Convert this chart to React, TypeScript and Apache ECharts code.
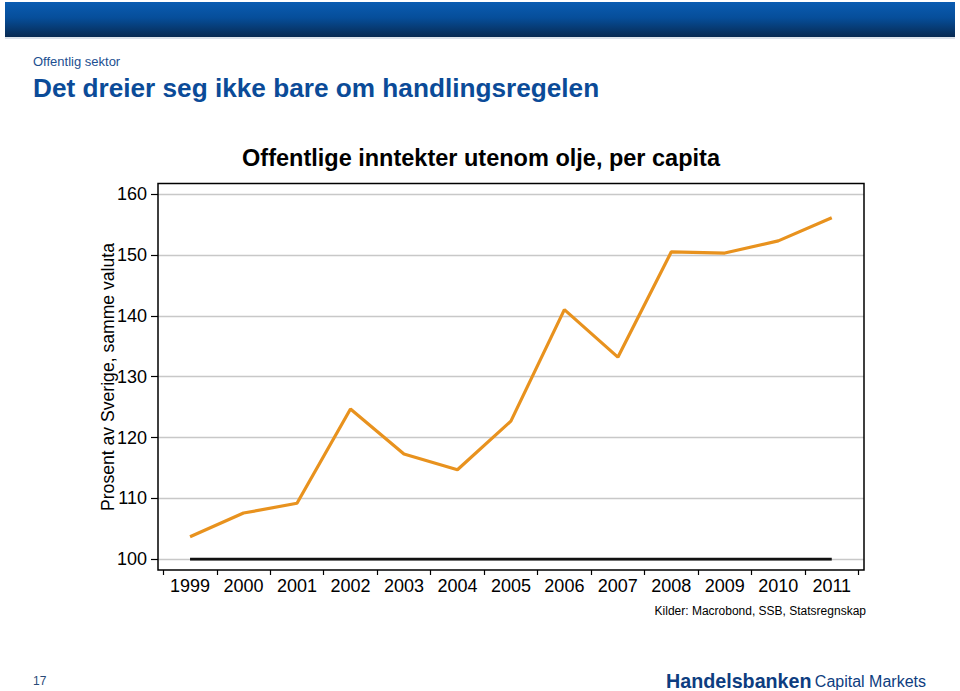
import React, { useEffect, useRef } from "react";
import * as echarts from "echarts";

const years = ["1999", "2000", "2001", "2002", "2003", "2004", "2005", "2006", "2007", "2008", "2009", "2010", "2011"];
const revenueValues = [103.7, 107.6, 109.2, 124.7, 117.3, 114.7, 122.7, 141.0, 133.2, 150.5, 150.3, 152.3, 156.1];
const swedenLevel = [100, 100, 100, 100, 100, 100, 100, 100, 100, 100, 100, 100, 100];
const yTicks = { min: 100, max: 160, interval: 10 };

const FONT = "'Liberation Sans', Arial, Helvetica, sans-serif";

export default function App() {
  const ref = useRef<HTMLDivElement>(null);
  useEffect(() => {
    if (!ref.current) return;
    const chart = echarts.init(ref.current, null, { renderer: "svg" });
    const option: any = {
      animation: false,
      backgroundColor: "#ffffff",
      textStyle: { fontFamily: FONT },
      grid: [
        { left: 158, right: 96, top: 194, bottom: 131.7 },
        { left: 163.3, right: 101.5, top: 194, bottom: 131.7 },
      ],
      xAxis: [
        { type: "category", gridIndex: 0, data: years, show: false },
        {
          type: "category",
          gridIndex: 1,
          data: years,
          boundaryGap: true,
          offset: 10.7,
          axisLine: { show: false },
          axisTick: { show: true, length: 5, lineStyle: { color: "#000", width: 1.2 } },
          axisLabel: { color: "#000", fontSize: 18, fontFamily: FONT, margin: 7, interval: 0 },
          splitLine: { show: false },
        },
      ],
      yAxis: [
        {
          type: "value",
          gridIndex: 0,
          min: yTicks.min,
          max: yTicks.max,
          interval: yTicks.interval,
          axisLine: { show: false },
          axisTick: { show: true, length: 7, lineStyle: { color: "#000", width: 1.2 } },
          axisLabel: { color: "#000", fontSize: 18, fontFamily: FONT, margin: 11 },
          splitLine: { show: true, lineStyle: { color: "#c8c8c8", width: 1.3 } },
        },
        {
          type: "value",
          gridIndex: 1,
          min: yTicks.min,
          max: yTicks.max,
          interval: yTicks.interval,
          show: false,
          splitLine: { show: false },
        },
      ],
      series: [
        {
          type: "line",
          xAxisIndex: 1,
          yAxisIndex: 1,
          data: swedenLevel,
          symbol: "none",
          lineStyle: { color: "#111111", width: 3 },
          z: 3,
        },
        {
          type: "line",
          xAxisIndex: 1,
          yAxisIndex: 1,
          data: revenueValues,
          symbol: "none",
          lineStyle: { color: "#E8921E", width: 3.2 },
          z: 4,
        },
      ],
      graphic: [
        {
          type: "rect",
          shape: { x: 5, y: 2, width: 950, height: 35 },
          style: {
            fill: new echarts.graphic.LinearGradient(0, 0, 0, 1, [
              { offset: 0, color: "#0a5cb2" },
              { offset: 0.45, color: "#064e9a" },
              { offset: 1, color: "#082a52" },
            ]),
          },
          silent: true,
        },
        {
          type: "line",
          shape: { x1: 5, y1: 38, x2: 955, y2: 38 },
          style: { stroke: "#b9c6d6", lineWidth: 1 },
          silent: true,
        },
        {
          type: "text",
          x: 33,
          y: 61,
          style: { text: "Offentlig sektor", fill: "#1d4f91", font: `13px ${FONT}`, verticalAlign: "middle" },
        },
        {
          type: "text",
          x: 33,
          y: 88,
          style: { text: "Det dreier seg ikke bare om handlingsregelen", fill: "#0b4b98", font: `bold 26.2px ${FONT}`, verticalAlign: "middle" },
        },
        {
          type: "text",
          x: 481,
          y: 158,
          style: { text: "Offentlige inntekter utenom olje, per capita", fill: "#000", font: `bold 23.5px ${FONT}`, align: "center", verticalAlign: "middle" },
        },
        {
          type: "text",
          x: 108,
          y: 377,
          rotation: Math.PI / 2,
          style: { text: "Prosent av Sverige, samme valuta", fill: "#000", font: `17.6px ${FONT}`, align: "center", verticalAlign: "middle" },
        },
        {
          type: "rect",
          shape: { x: 158, y: 183.5, width: 706, height: 386.5 },
          style: { fill: "none", stroke: "#000", lineWidth: 1.5 },
          z: 10,
          silent: true,
        },
        {
          type: "text",
          x: 866,
          y: 611,
          style: { text: "Kilder: Macrobond, SSB, Statsregnskap", fill: "#000", font: `12px ${FONT}`, align: "right", verticalAlign: "middle" },
        },
        {
          type: "text",
          x: 33,
          y: 681,
          style: { text: "17", fill: "#2a4a78", font: `12px ${FONT}`, verticalAlign: "middle" },
        },
        {
          type: "text",
          x: 926,
          y: 681,
          style: {
            text: "{a|Handelsbanken} {b|Capital Markets}",
            align: "right",
            verticalAlign: "middle",
            rich: {
              a: { fill: "#0d3d80", font: `bold 19.7px ${FONT}`, lineHeight: 18 },
              b: { fill: "#0d3d80", font: `16px ${FONT}`, lineHeight: 18 },
            },
          },
        },
      ],
    };
    chart.setOption(option);
    return () => chart.dispose();
  }, []);
  return (
    <div
      ref={ref}
      style={{ position: "fixed", left: 0, top: 0, width: 960, height: 691 }}
    />
  );
}
